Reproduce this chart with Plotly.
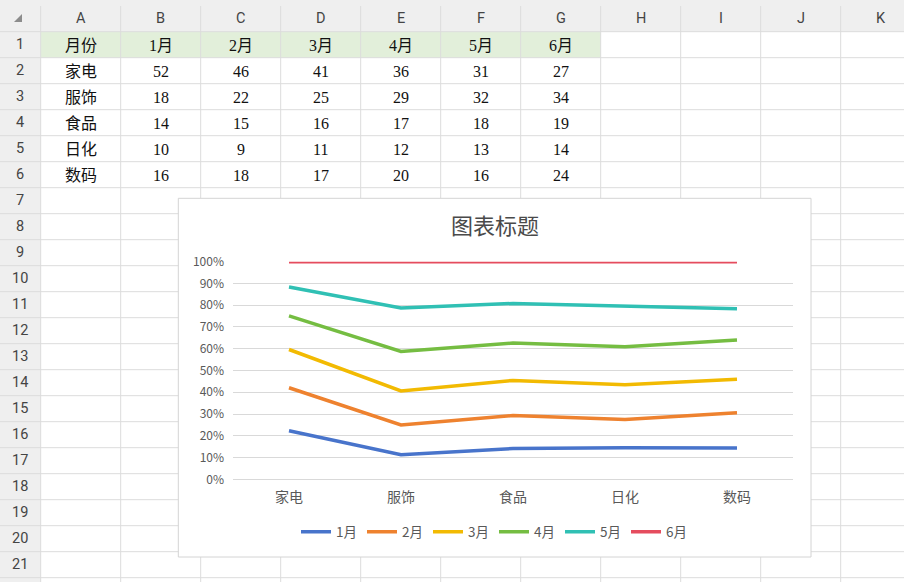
import plotly.graph_objects as go

# ---------------- data ----------------
categories = ["家电", "服饰", "食品", "日化", "数码"]
months = ["1月", "2月", "3月", "4月", "5月", "6月"]
m1 = [52, 18, 14, 10, 16]
m2 = [46, 22, 15, 9, 18]
m3 = [41, 25, 16, 11, 17]
m4 = [36, 29, 17, 12, 20]
m5 = [31, 32, 18, 13, 16]
m6 = [27, 34, 19, 14, 24]
series = [m1, m2, m3, m4, m5, m6]
header_label = "月份"
col_letters = ["A", "B", "C", "D", "E", "F", "G", "H", "I", "J", "K"]
row_count = 21
y_ticks = [0, 10, 20, 30, 40, 50, 60, 70, 80, 90, 100]
chart_title = "图表标题"
colors = ["#4874CB", "#EE822F", "#F2BA02", "#75BD42", "#30C0B4", "#E54C5E"]

# ---------------- geometry helpers ----------------
W, H = 904, 582
def X(px):
    return px / W
def Y(py):
    return 1 - py / H

COL0 = 40.7
COLW = 80
ROW0 = 31.7
ROWH = 26
GRID = "#DCDCDC"
HDR_BG = "#EFEFEF"

shapes = []
annotations = []

def note(text, px, py, font, xanchor="center"):
    annotations.append(dict(text=text, x=X(px), y=Y(py), xref="paper", yref="paper",
                            xanchor=xanchor, yanchor="middle", showarrow=False, font=font))

# header backgrounds
shapes.append(dict(type="rect", xref="paper", yref="paper", x0=0, x1=1, y0=Y(ROW0), y1=1,
                   fillcolor=HDR_BG, line=dict(width=0), layer="below"))
shapes.append(dict(type="rect", xref="paper", yref="paper", x0=0, x1=X(COL0), y0=0, y1=1,
                   fillcolor=HDR_BG, line=dict(width=0), layer="below"))
# row 1 green
shapes.append(dict(type="rect", xref="paper", yref="paper", x0=X(COL0), x1=X(COL0 + 7 * COLW),
                   y0=Y(ROW0 + ROWH), y1=Y(ROW0), fillcolor="#E2EFDA", line=dict(width=0), layer="below"))
# vertical grid lines
for k in range(len(col_letters) + 1):
    xx = COL0 + k * COLW
    if xx > W + 1:
        break
    shapes.append(dict(type="line", xref="paper", yref="paper", x0=X(xx), x1=X(xx),
                       y0=0, y1=Y(6), line=dict(color=GRID, width=1), layer="below"))
# horizontal grid lines
for k in range(row_count + 2):
    yy = ROW0 + k * ROWH
    if yy > H:
        break
    shapes.append(dict(type="line", xref="paper", yref="paper", x0=0, x1=1,
                       y0=Y(yy), y1=Y(yy), line=dict(color=GRID, width=1), layer="below"))
# corner triangle
shapes.append(dict(type="path", xref="paper", yref="paper",
                   path=f"M {X(22)} {Y(14)} L {X(22)} {Y(22)} L {X(14)} {Y(22)} Z",
                   fillcolor="#8C8C8C", line=dict(width=0), layer="below"))

hdr_font = dict(family="Roboto, Noto Sans", size=14.5, color="#444444")
for k, c in enumerate(col_letters):
    note(c, COL0 + COLW * k + COLW / 2, 19, hdr_font)
for r in range(1, row_count + 1):
    note(str(r), 20, ROW0 + ROWH * (r - 1) + ROWH / 2, hdr_font)

# table cells
cell_font = dict(family="Liberation Serif, Noto Sans CJK SC", size=16, color="#111111")
def cell(col, row, text):
    note(text, COL0 + COLW * col + COLW / 2, ROW0 + ROWH * (row - 1) + ROWH / 2 + 1, cell_font)
cell(0, 1, header_label)
for j, m in enumerate(months):
    cell(j + 1, 1, m)
for i, cat in enumerate(categories):
    cell(0, i + 2, cat)
    for j, s in enumerate(series):
        cell(j + 1, i + 2, str(s[i]))

# chart box
CX0, CX1, CY0, CY1 = 178.3, 811, 198.3, 557
shapes.append(dict(type="rect", xref="paper", yref="paper", x0=X(CX0), x1=X(CX1), y0=Y(CY1), y1=Y(CY0),
                   fillcolor="white", line=dict(color="#D4D4D4", width=1), layer="below"))

# title
note(chart_title, 495, 224, dict(family="Noto Sans CJK SC", size=22, color="#4A4A4A"))

# ---------------- chart ----------------
fig = go.Figure()
for name, s, col in zip(months, series, colors):
    fig.add_trace(go.Scatter(x=categories, y=s, name=name, mode="lines",
                             stackgroup="one", groupnorm="percent", fill="none",
                             line=dict(color=col, width=3.5)))

PX0, PX1, PY0, PY1 = 233, 793, 261.7, 479.3
fig.update_layout(
    width=W, height=H,
    margin=dict(l=0, r=0, t=0, b=0, pad=0, autoexpand=False),
    paper_bgcolor="white",
    plot_bgcolor="rgba(0,0,0,0)",
    shapes=shapes,
    annotations=annotations,
    showlegend=True,
    legend=dict(orientation="h", x=X(494), xanchor="center", y=Y(532), yanchor="middle",
                font=dict(family="Noto Sans CJK SC", size=13.5, color="#595959"),
                itemwidth=30, tracegroupgap=0, bgcolor="rgba(0,0,0,0)", traceorder="normal"),
    xaxis=dict(domain=[X(PX0), X(PX1)], range=[-0.5, 4.5], type="category",
               showgrid=False, zeroline=False, showline=False, ticks="",
               tickfont=dict(family="Noto Sans CJK SC", size=14, color="#595959"),
               ticklabelstandoff=8, automargin=False),
    yaxis=dict(domain=[Y(PY1), Y(PY0)], range=[0, 100], tickvals=y_ticks,
               ticktext=[f"{v}%" for v in y_ticks],
               showgrid=True, gridcolor="#D9D9D9", gridwidth=1, zeroline=True,
               zerolinecolor="#D9D9D9", zerolinewidth=1, showline=False, ticks="",
               tickfont=dict(family="Noto Sans CJK SC", size=12, color="#595959"),
               ticklabelstandoff=8, automargin=False),
)

fig.write_html("out.html", config={"displayModeBar": False},
               post_script="document.body.style.margin='0';document.body.style.overflow='hidden';")
